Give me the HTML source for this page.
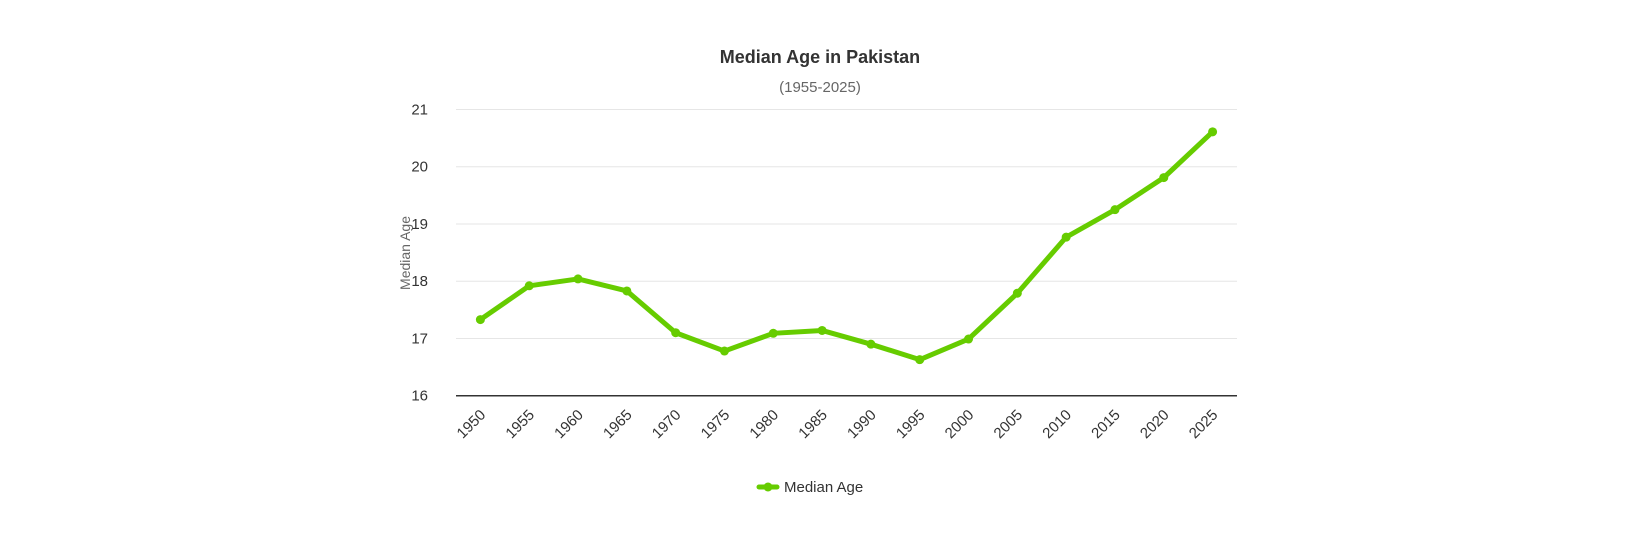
<!DOCTYPE html>
<html><head><meta charset="utf-8"><style>
html,body{margin:0;padding:0;background:#fff;}
svg{display:block;font-family:"Liberation Sans",sans-serif;}
</style></head><body>
<svg id="chart" width="1640" height="552" viewBox="0 0 1640 552">
<text x="820" y="63" text-anchor="middle" font-size="18" font-weight="bold" fill="#333">Median Age in Pakistan</text>
<text x="820" y="92" text-anchor="middle" font-size="15" fill="#666">(1955-2025)</text>
<text transform="translate(410,253) rotate(-90)" text-anchor="middle" font-size="14" fill="#666">Median Age</text>
<g id="grid"></g>
<g id="yticks"></g>
<g id="xticks"></g>
<g id="series"></g>
<g>
<line x1="759" y1="487" x2="777" y2="487" stroke="#66cc00" stroke-width="5" stroke-linecap="round"/>
<circle cx="768" cy="487" r="4.5" fill="#66cc00"/>
<text x="784" y="492" font-size="15" fill="#333">Median Age</text>
</g>
</svg>
<script>
const years = ["1950","1955","1960","1965","1970","1975","1980","1985","1990","1995","2000","2005","2010","2015","2020","2025"];
const medianAge = [17.33,17.92,18.04,17.83,17.10,16.78,17.09,17.14,16.90,16.63,16.99,17.79,18.77,19.25,19.81,20.61];
const yTicks = [16,17,18,19,20,21];
const NS="http://www.w3.org/2000/svg";
const plotLeft=456,plotRight=1237,plotTop=109.5,plotBottom=395.7,yMin=16,yMax=21;
const band=(plotRight-plotLeft)/years.length;
function xs(i){return plotLeft+band*(i+0.5);}
function ys(v){return plotBottom-(v-yMin)/(yMax-yMin)*(plotBottom-plotTop);}
function mk(t,a,p){const e=document.createElementNS(NS,t);for(const k in a)e.setAttribute(k,a[k]);p.appendChild(e);return e;}
const grid=document.getElementById('grid'),yt=document.getElementById('yticks'),xt=document.getElementById('xticks'),ser=document.getElementById('series');
yTicks.forEach(v=>{
 const l=mk('line',{x1:plotLeft,x2:plotRight,y1:ys(v),y2:ys(v),stroke:v===yMin?'#333':'#e6e6e6','stroke-width':v===yMin?1.5:1},grid);
 
 
 const t=mk('text',{x:plotLeft-28,y:ys(v)+5,'text-anchor':'end','font-size':15,fill:'#333'},yt);
 
 
 t.textContent=v;
});
years.forEach((y,i)=>{
 const x=xs(i)+6,yy=plotBottom+20;
 const t=mk('text',{x:x,y:yy,'text-anchor':'end','font-size':15,fill:'#333',transform:`rotate(-45 ${x} ${yy})`},xt);
 
 
 t.textContent=y;
});
const pts=medianAge.map((v,i)=>xs(i)+','+ys(v)).join(' ');
const pl=mk('polyline',{points:pts,fill:'none',stroke:'#66cc00','stroke-width':5,'stroke-linejoin':'round','stroke-linecap':'round'},ser);


medianAge.forEach((v,i)=>{
 const c=mk('circle',{cx:xs(i),cy:ys(v),r:4.5,fill:'#66cc00'},ser);
 
 
});
</script>
</body></html>
